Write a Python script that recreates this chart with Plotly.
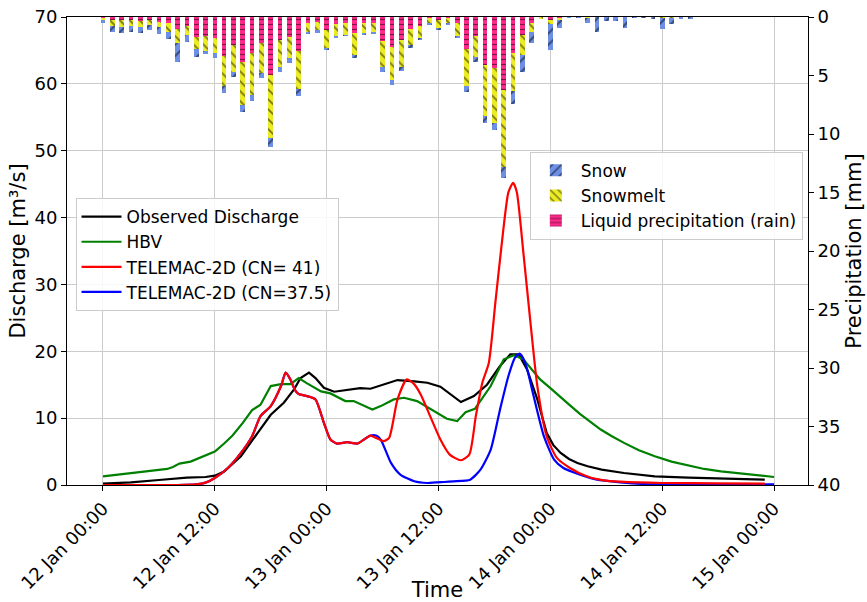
import pandas as pd
import plotly.graph_objects as go

T0 = pd.Timestamp("2021-01-12 00:00")

# ---- precipitation (hourly, mm) ----
bar_hours = list(range(0, 64))
rain = [0.10, 0.26, 0.26, 0.26, 0.31, 0.26, 0.43, 0.54, 1.05, 0.77,
        1.68, 1.62, 1.82, 3.33, 2.39, 3.82, 3.11, 2.25, 4.96, 1.97,
        1.68, 2.88, 0.48, 0.40, 1.11, 0.60, 0.54, 1.40, 0.54, 0.54,
        2.02, 2.54, 1.97, 1.05, 0.77, 0.11, 0.26, 0.11, 0.54, 2.76,
        1.60, 4.10, 4.39, 6.24, 3.10, 1.54, 0.54, 0.05, 0.26, 0.15,
        0.00, 0.00, 0.00, 0.00, 0.00, 0.00, 0.00, 0.00, 0.00, 0.00,
        0.00, 0.00, 0.00, 0.00]
snowmelt = [0.17, 0.51, 0.57, 0.51, 0.51, 0.42, 0.40, 0.71, 1.20, 0.77,
            1.08, 1.26, 1.29, 2.57, 2.28, 3.70, 3.56, 2.51, 5.41, 2.28,
            1.85, 3.30, 0.77, 0.71, 1.57, 1.08, 1.00, 1.85, 0.86, 0.80,
            2.23, 2.84, 2.28, 1.34, 1.05, 0.43, 0.71, 0.43, 1.14, 3.13,
            1.79, 4.40, 4.70, 6.56, 3.22, 1.71, 0.71, 0.05, 0.34, 0.11,
            0.02, 0.02, 0.10, 0.00, 0.00, 0.00, 0.00, 0.00, 0.00, 0.00,
            0.05, 0.05, 0.00, 0.00]
snow = [0.20, 0.48, 0.51, 0.54, 0.51, 0.43, 0.65, 0.66, 1.62, 0.63,
        0.69, 0.28, 0.37, 0.57, 0.43, 0.57, 0.51, 0.43, 0.77, 0.48,
        0.43, 0.57, 0.23, 0.23, 0.14, 0.14, 0.08, 0.28, 0.14, 0.11,
        0.42, 0.43, 0.37, 0.28, 0.14, 0.09, 0.08, 0.06, 0.06, 0.48,
        0.43, 0.60, 0.57, 1.00, 1.14, 1.42, 1.00, 0.00, 2.22, 0.71,
        0.02, 0.02, 0.38, 1.25, 0.34, 0.31, 0.97, 0.05, 0.05, 0.10,
        1.00, 0.55, 0.10, 0.10]

# ---- discharge series (hours since 12 Jan 00:00, m3/s) ----
obs_h = [0, 3, 6, 9, 11, 12, 13, 14, 14.8, 16.6, 18, 19.4, 20.5, 21.2, 22.1, 22.8,
         23.7, 24.8, 25.9, 27.6, 28.7, 29.8, 31.6, 33.4, 34.8, 36.2, 37.1, 38.4, 39.8,
         41.2, 42.6, 43.7, 44.6, 45.5, 46.6, 47.6, 48.3, 49.1, 50.0, 50.9, 52.0, 53.5,
         55.9, 59.2, 62.8, 66.3, 71.0]
obs_q = [0.2, 0.4, 0.75, 1.1, 1.2, 1.4, 2.0, 3.2, 4.3, 7.8, 10.5, 12.3, 14.3, 16.0, 16.8, 16.0,
         14.55, 13.95, 14.2, 14.5, 14.4, 14.9, 15.7, 15.5, 15.3, 14.7, 13.8, 12.4, 13.3,
         15.0, 17.8, 19.55, 19.55, 17.3, 12.8, 7.8, 6.0, 4.8, 3.9, 3.3, 2.8, 2.3,
         1.8, 1.3, 1.1, 0.95, 0.8]

hbv_h = [0, 2.6, 4.8, 6.9, 7.5, 8.2, 9.4, 10.9, 12, 13, 13.9, 15, 16, 16.9, 18, 19.1,
         20.1, 21, 21.9, 23.4, 24.4, 26, 26.9, 28.9, 29.8, 31.2, 32.3, 33.7, 35.5, 36.9,
         38, 38.9, 39.9, 41.6, 43, 44.1, 45.1, 46.9, 48, 49.1, 50.2, 51.2, 52.3, 53.4,
         54.6, 55.9, 57.5, 59.2, 61, 62.8, 64.5, 66.3, 69, 72]
hbv_q = [1.3, 1.7, 2.0, 2.4, 2.7, 3.2, 3.5, 4.3, 5.0, 6.2, 7.4, 9.3, 11.2, 12.0, 14.8, 15.1,
         15.1, 16.0, 15.2, 14.0, 13.7, 12.55, 12.55, 11.3, 11.8, 12.8, 13.05, 12.55, 11.05, 9.9,
         9.55, 10.9, 11.4, 14.8, 18.8, 19.4, 18.8, 15.8, 14.5, 13.1, 11.8, 10.6, 9.4, 8.3,
         7.3, 6.3, 5.2, 4.3, 3.5, 2.9, 2.4, 2.05, 1.6, 1.2]

cn41_h = [0, 4, 8, 10, 11, 12, 13.4, 14.8, 16, 16.9, 18, 19.1, 19.6, 20.1, 20.6, 21,
          21.9, 22.8, 23.7, 24.4, 25.1, 26.2, 27.3, 28, 28.7, 29.3, 30.1, 30.7, 31.6, 32.6,
          33.4, 34.1, 35.1, 36.2, 37.2, 38.4, 39.3, 40, 40.7, 41.4, 42.1, 42.8, 43.5, 44,
          44.4, 45.1, 45.9, 46.6, 47.6, 48.7, 50.1, 51.9, 53.7, 55.5, 60, 66, 71]
cn41_q = [0, 0, 0, 0.1, 0.35, 1.05, 2.55, 4.8, 7.3, 10.3, 11.8, 14.8, 16.8, 15.8, 14.2, 13.6,
          13.3, 12.8, 9.3, 6.8, 6.2, 6.4, 6.2, 6.8, 7.4, 7.05, 6.55, 7.05, 12.8, 15.8,
          15.05, 13.5, 10.3, 6.8, 4.55, 3.7, 4.55, 10.3, 15.3, 18.3, 27.3, 36.3, 43.8, 45.2,
          43.8, 34.8, 23.8, 14.8, 7.3, 4.05, 2.55, 1.3, 0.7, 0.5, 0.3, 0.25, 0.2]

cn375_h = [0, 4, 8, 10, 11, 12, 13.4, 14.8, 16, 16.9, 18, 19.1, 19.6, 20.1, 20.6, 21,
           21.9, 22.8, 23.7, 24.4, 25.1, 26.2, 27.3, 28, 28.7, 29.3, 29.8, 30.9, 31.9, 33.4,
           34.8, 36.6, 37.6, 39.4, 40.5, 41.6, 42.6, 43.5, 44.2, 44.7, 45.3, 46.2, 47.3, 48.4,
           49.4, 51.2, 53, 55.5, 58, 72]
cn375_q = [0, 0, 0, 0.1, 0.35, 1.05, 2.55, 4.8, 7.3, 10.3, 11.8, 14.8, 16.8, 15.8, 14.2, 13.6,
           13.3, 12.8, 9.3, 6.8, 6.2, 6.4, 6.2, 6.8, 7.4, 7.4, 6.8, 3.3, 1.55, 0.55,
           0.3, 0.45, 0.55, 0.8, 2.3, 5.3, 11.3, 16.3, 19.05, 19.65, 18.3, 13.3, 7.3, 3.8,
           2.55, 1.55, 0.8, 0.4, 0.15, 0.1]


def to_time(hours):
    return [T0 + pd.Timedelta(hours=h) for h in hours]


FONT = "DejaVu Sans"
fig = go.Figure()

# precipitation bars (stacked from top on reversed right axis)
bar_specs = [
    ("Liquid precipitation (rain)", rain, "#ff2a8a", "-", 5, 3),
    ("Snowmelt", snowmelt, "#ecec26", "\\", 7, 2),
    ("Snow", snow, "#6d8fe6", "/", 8, 1),
]
for name, vals, col, shape, size, rank in bar_specs:
    fig.add_trace(go.Bar(
        x=to_time(bar_hours), y=vals, name=name, yaxis="y2",
        width=0.5 * 3600 * 1000,
        marker=dict(color=col, line=dict(width=0),
                    pattern=dict(shape=shape, fgcolor="black", bgcolor=col,
                                 fillmode="overlay", size=size, solidity=0.25)),
        legend="legend2", legendrank=rank,
    ))

line_specs = [
    ("Observed Discharge", obs_h, obs_q, "black", "linear", 1),
    ("HBV", hbv_h, hbv_q, "green", "linear", 2),
    ("TELEMAC-2D (CN=37.5)", cn375_h, cn375_q, "blue", "spline", 4),
    ("TELEMAC-2D (CN= 41)", cn41_h, cn41_q, "red", "spline", 3),
]
for name, hh, qq, col, shp, rank in line_specs:
    line = dict(color=col, width=2.2, shape=shp)
    if shp == "spline":
        line["smoothing"] = 0.6
    fig.add_trace(go.Scatter(
        x=to_time(hh), y=qq, name=name, mode="lines", line=line,
        legend="legend", legendrank=rank,
    ))

xr = [T0 - pd.Timedelta(hours=3.86), T0 + pd.Timedelta(hours=75.64)]
grid = "#cccccc"
TICKF = dict(size=18)

fig.update_layout(
    width=867, height=602,
    margin=dict(l=66.5, r=59, t=17, b=116.7, autoexpand=False),
    paper_bgcolor="white", plot_bgcolor="white",
    font=dict(family=FONT, size=17, color="black"),
    barmode="stack", bargap=0,
    xaxis=dict(
        type="date", range=xr, tick0=T0, dtick=12 * 3600 * 1000,
        tickformat="%d %b %H:%M", tickangle=-45, automargin=False, tickfont=TICKF,
        showgrid=True, gridcolor=grid, gridwidth=1,
        showline=True, linecolor="black", linewidth=1, mirror=True,
        ticks="outside", ticklen=5, tickcolor="black",
        title=dict(text="Time", font=dict(size=21), standoff=4),
    ),
    yaxis=dict(
        range=[0, 70], dtick=10, showgrid=True, gridcolor=grid, gridwidth=1,
        zeroline=False, showline=True, linecolor="black", linewidth=1, mirror=True,
        ticks="outside", ticklen=5, tickcolor="black", automargin=False, tickfont=TICKF,
        title=dict(text="Discharge [m³/s]", font=dict(size=21), standoff=3),
    ),
    yaxis2=dict(
        overlaying="y", side="right", range=[40, 0], dtick=5, automargin=False,
        tickfont=TICKF,
        showgrid=False, zeroline=False, showline=True, linecolor="black", linewidth=1,
        ticks="outside", ticklen=5, tickcolor="black",
        title=dict(text="Precipitation [mm]", font=dict(size=21), standoff=6),
    ),
    legend=dict(
        x=0.0115, y=0.613, xanchor="left", yanchor="top",
        bgcolor="rgba(255,255,255,0.85)", bordercolor="#cccccc", borderwidth=1,
        font=dict(size=17), itemwidth=40, traceorder="normal",
    ),
    legend2=dict(
        x=0.993, y=0.712, xanchor="right", yanchor="top",
        bgcolor="rgba(255,255,255,0.85)", bordercolor="#cccccc", borderwidth=1,
        font=dict(size=17), itemwidth=40, traceorder="normal",
    ),
)

fig.write_html("out.html")
